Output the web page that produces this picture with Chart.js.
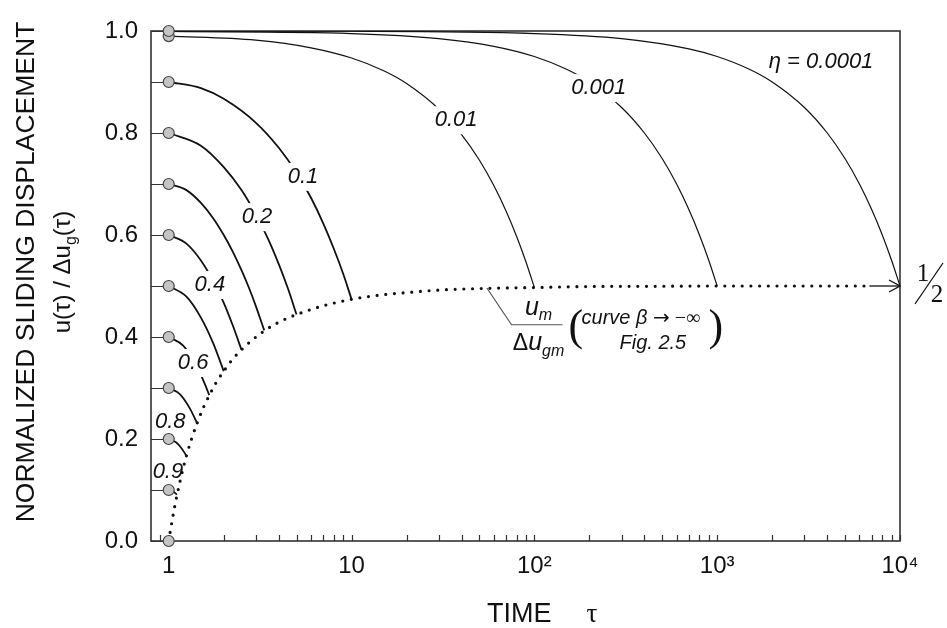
<!DOCTYPE html>
<html>
<head>
<meta charset="utf-8">
<script src="https://cdn.jsdelivr.net/npm/chart.js@4.4.1/dist/chart.umd.min.js"></script>
<style>
    html, body { margin: 0; padding: 0; background: #fff; }
    canvas { display: block; }
</style>
</head>
<body>
<canvas id="chart" width="947" height="628"></canvas>
<script>
/* ############ */
/* ### Data ### */
/* ############ */

// Starting points at tau = 1
const circleTau = [1, 1, 1, 1, 1, 1, 1, 1, 1, 1, 1, 1];
const circleU = [0.0, 0.1, 0.2, 0.3, 0.4, 0.5, 0.6, 0.7, 0.8, 0.9, 0.99, 1.0];

// One curve per eta, tau from 1 to 1/eta
const eta09Tau = [1, 1.05, 1.11];
const eta09U = [0.1, 0.098, 0.091];
const eta08Tau = [1, 1.1, 1.18, 1.25];
const eta08U = [0.2, 0.193, 0.181, 0.167];
const eta07Tau = [1, 1.15, 1.3, 1.43];
const eta07U = [0.3, 0.288, 0.261, 0.231];
const eta06Tau = [1, 1.2, 1.4, 1.55, 1.667];
const eta06U = [0.4, 0.383, 0.347, 0.314, 0.286];
const eta05Tau = [1, 1.25, 1.5, 1.75, 2];
const eta05U = [0.5, 0.479, 0.438, 0.388, 0.333];
const eta04Tau = [1, 1.25, 1.5, 1.75, 2, 2.25, 2.5];
const eta04U = [0.6, 0.583, 0.55, 0.51, 0.467, 0.421, 0.375];
const eta03Tau = [1, 1.25, 1.5, 1.75, 2, 2.25, 2.5, 2.75, 3, 3.33];
const eta03U = [0.7, 0.688, 0.663, 0.633, 0.6, 0.566, 0.531, 0.496, 0.46, 0.413];
const eta02Tau = [1, 1.5, 2, 2.5, 3, 3.5, 4, 4.5, 5];
const eta02U = [0.8, 0.775, 0.733, 0.688, 0.64, 0.592, 0.543, 0.494, 0.444];
const eta01Tau = [1, 1.5, 2, 3, 4, 5, 6, 7, 8, 9, 10];
const eta01U = [0.9, 0.888, 0.867, 0.82, 0.771, 0.722, 0.673, 0.623, 0.573, 0.524, 0.474];
const eta001Tau = [1, 3, 6, 10, 15, 20, 30, 40, 50, 60, 70, 80, 90, 100];
const eta001U = [0.99, 0.982, 0.967, 0.947, 0.922, 0.897, 0.847, 0.797, 0.747, 0.697, 0.647, 0.597, 0.547, 0.497];
const eta0001Tau = [1, 10, 30, 60, 100, 150, 200, 300, 400, 500, 600, 700, 800, 900, 1000];
const eta0001U = [0.999, 0.995, 0.985, 0.97, 0.95, 0.925, 0.9, 0.85, 0.8, 0.75, 0.7, 0.65, 0.6, 0.55, 0.5];
const eta00001Tau = [1, 10, 100, 300, 700, 1000, 1500, 2000, 3000, 4000, 5000, 6000, 7000, 8000, 9000, 10000];
const eta00001U = [0.9999, 0.9995, 0.995, 0.985, 0.965, 0.95, 0.925, 0.9, 0.85, 0.8, 0.75, 0.7, 0.65, 0.6, 0.55, 0.5];

// Dotted limit curve u_m / du_gm
const limitTau = [1, 1.02, 1.05, 1.08, 1.11, 1.15, 1.2, 1.25, 1.33, 1.43, 1.54, 1.67, 1.82, 2, 2.22, 2.5,
    2.86, 3.33, 4, 5, 6.67, 10, 15, 20, 30, 50, 100, 200, 500, 1000, 2000, 6800];
const limitU = [0, 0.019, 0.045, 0.069, 0.09, 0.115, 0.143, 0.167, 0.199, 0.231, 0.26, 0.286, 0.311, 0.333, 0.355, 0.375,
    0.394, 0.412, 0.429, 0.444, 0.459, 0.474, 0.483, 0.487, 0.492, 0.495, 0.497, 0.499, 0.4995, 0.5, 0.5, 0.5];

// Arrow towards 1/2
const arrowTau = [6800, 10000];
const arrowU = [0.5, 0.5];

// Axes
const xTickValues = [0.9, 1, 2, 3, 4, 5, 6, 7, 8, 9,
    10, 20, 30, 40, 50, 60, 70, 80, 90,
    100, 200, 300, 400, 500, 600, 700, 800, 900,
    1000, 2000, 3000, 4000, 5000, 6000, 7000, 8000, 9000, 10000];
const xTickText = { 1: '1', 10: '10', 100: '10²', 1000: '10³', 10000: '10⁴' };
const yTickValues = [0, 0.1, 0.2, 0.3, 0.4, 0.5, 0.6, 0.7, 0.8, 0.9, 1.0];
const yTickText = ['0.0', '', '0.2', '', '0.4', '', '0.6', '', '0.8', '', '1.0'];

/* ################ */
/* ### Settings ### */
/* ################ */

const SANS = '"Liberation Sans", Arial, sans-serif';
const SERIF = '"Liberation Serif", "Times New Roman", serif';
const INK = '#111';

// Curve labels (anchored in data coordinates)
const curveLabels = [
    { text: '0.1', tau: 5.43, u: 0.714, knockout: true },
    { text: '0.2', tau: 3.04, u: 0.635, knockout: true },
    { text: '0.4', tau: 1.68, u: 0.502, knockout: true },
    { text: '0.6', tau: 1.36, u: 0.349, knockout: true },
    { text: '0.8', tau: 1.02, u: 0.233, knockout: false },
    { text: '0.9', tau: 0.99, u: 0.135, knockout: false },
    { text: '0.01', tau: 37.3, u: 0.825, knockout: true },
    { text: '0.001', tau: 225, u: 0.888, knockout: true },
    { text: 'η = 0.0001', tau: 3700, u: 0.939, knockout: false }
];

function points(tau, u) {
    return tau.map((t, i) => ({ x: t, y: u[i] }));
}

function curve(tau, u, width) {
    return {
        data: points(tau, u),
        borderColor: INK,
        borderWidth: width,
        pointRadius: 0,
        fill: false,
        cubicInterpolationMode: 'monotone'
    };
}

/* ############### */
/* ### Helpers ### */
/* ############### */

function partsWidth(ctx, parts) {
    return parts.reduce((w, p) => {
        ctx.font = p.font;
        return w + ctx.measureText(p.t).width;
    }, 0);
}

function drawParts(ctx, parts, x0, baseline, centered = true) {
    let x = centered ? x0 - partsWidth(ctx, parts) / 2 : x0;
    ctx.textAlign = 'left';
    ctx.textBaseline = 'alphabetic';
    parts.forEach(p => {
        ctx.font = p.font;
        ctx.fillText(p.t, x, baseline + (p.dy || 0));
        x += ctx.measureText(p.t).width;
    });
}

/* ############### */
/* ### Plugins ### */
/* ############### */

const frameAndTicks = {
    id: 'frameAndTicks',
    beforeDatasetsDraw(chart) {
        const { ctx, chartArea: a, scales: { x, y } } = chart;
        ctx.save();
        ctx.strokeStyle = '#333';
        ctx.lineWidth = 1.2;
        ctx.beginPath();
        x.ticks.forEach(t => {
            const px = Math.round(x.getPixelForValue(t.value)) + 0.5;
            ctx.moveTo(px, a.bottom);
            ctx.lineTo(px, a.bottom - 6);
        });
        y.ticks.forEach(t => {
            const py = Math.round(y.getPixelForValue(t.value)) + 0.5;
            ctx.moveTo(a.left, py);
            ctx.lineTo(a.left + 12, py);
        });
        ctx.stroke();
        ctx.lineWidth = 1.6;
        ctx.strokeRect(a.left, a.top, a.right - a.left, a.bottom - a.top);
        ctx.restore();
    }
};

const annotations = {
    id: 'annotations',
    afterDatasetsDraw(chart) {
        const { ctx, chartArea: a, scales: { x, y } } = chart;
        const px = (t, u) => ({ x: x.getPixelForValue(t), y: y.getPixelForValue(u) });
        ctx.save();
        ctx.fillStyle = INK;
        ctx.strokeStyle = INK;

        // Arrow head at 1/2
        const tip = px(10000, 0.5);
        ctx.lineWidth = 1.4;
        ctx.beginPath();
        ctx.moveTo(tip.x - 11, tip.y - 6);
        ctx.lineTo(tip.x, tip.y);
        ctx.lineTo(tip.x - 11, tip.y + 6);
        ctx.stroke();

        // 1/2 fraction
        ctx.font = '25px ' + SERIF;
        ctx.textAlign = 'center';
        ctx.textBaseline = 'middle';
        ctx.fillText('1', tip.x + 23, tip.y - 12);
        ctx.fillText('2', tip.x + 37, tip.y + 9);
        ctx.lineWidth = 1.3;
        ctx.beginPath();
        ctx.moveTo(tip.x + 15, tip.y + 18);
        ctx.lineTo(tip.x + 43, tip.y - 23);
        ctx.stroke();

        // Curve labels
        ctx.font = 'italic 22px ' + SANS;
        curveLabels.forEach(l => {
            const p = px(l.tau, l.u);
            const w = ctx.measureText(l.text).width;
            if (l.knockout) {
                ctx.fillStyle = '#fff';
                ctx.fillRect(p.x - w / 2 - 3, p.y - 14, w + 6, 28);
                ctx.fillStyle = INK;
            }
            ctx.textAlign = 'center';
            ctx.textBaseline = 'middle';
            ctx.fillText(l.text, p.x, p.y);
        });

        // u_m / du_gm annotation
        const from = px(55, 0.496);
        const b = px(75, 0.424);
        ctx.strokeStyle = '#555';
        ctx.lineWidth = 1.2;
        ctx.beginPath();
        ctx.moveTo(from.x, from.y);
        ctx.lineTo(b.x, b.y);
        ctx.lineTo(b.x + 51, b.y);
        ctx.stroke();
        drawParts(ctx, [
            { t: 'u', font: 'italic 25px ' + SANS },
            { t: 'm', font: 'italic 16px ' + SANS, dy: 5 }
        ], b.x + 27, b.y - 10);
        drawParts(ctx, [
            { t: 'Δ', font: '23px ' + SANS },
            { t: 'u', font: 'italic 25px ' + SANS },
            { t: 'gm', font: 'italic 16px ' + SANS, dy: 6 }
        ], b.x + 27, b.y + 25);
        ctx.textAlign = 'left';
        ctx.font = '44px ' + SERIF;
        ctx.fillText('(', b.x + 57, b.y + 15);
        ctx.fillText(')', b.x + 197, b.y + 15);
        drawParts(ctx, [
            { t: 'curve β ', font: 'italic 20px ' + SANS },
            { t: '→', font: '20px "DejaVu Sans", sans-serif' },
            { t: ' −∞', font: '20px ' + SERIF }
        ], b.x + 70, b.y - 1, false);
        ctx.font = 'italic 20px ' + SANS;
        ctx.fillText('Fig. 2.5', b.x + 108, b.y + 24);

        // Axis titles
        ctx.fillStyle = INK;
        const cx = (a.left + a.right) / 2;
        ctx.font = '27px ' + SANS;
        ctx.fillText('TIME', cx - 38.5, 622);
        ctx.font = '27px ' + SERIF;
        ctx.fillText('τ', cx + 61, 622);

        ctx.save();
        ctx.translate(27, 272);
        ctx.rotate(-Math.PI / 2);
        ctx.font = '26.5px ' + SANS;
        ctx.textAlign = 'center';
        ctx.textBaseline = 'middle';
        ctx.fillText('NORMALIZED SLIDING DISPLACEMENT', 0, 0);
        ctx.restore();

        ctx.save();
        ctx.translate(62, 272);
        ctx.rotate(-Math.PI / 2);
        drawParts(ctx, [
            { t: 'u(τ) / Δu', font: '24px ' + SANS },
            { t: 'g', font: '16px ' + SANS, dy: 6 },
            { t: '(τ)', font: '24px ' + SANS }
        ], 0, 8);
        ctx.restore();

        ctx.restore();
    }
};

/* ############# */
/* ### Chart ### */
/* ############# */

const datasets = [
    {
        data: points(circleTau, circleU),
        showLine: false,
        pointRadius: 5.5,
        pointBackgroundColor: '#c4c4c4',
        pointBorderColor: '#444',
        pointBorderWidth: 1.2,
        clip: false
    },
    curve(eta09Tau, eta09U, 1.8),
    curve(eta08Tau, eta08U, 1.8),
    curve(eta07Tau, eta07U, 1.8),
    curve(eta06Tau, eta06U, 1.8),
    curve(eta05Tau, eta05U, 1.8),
    curve(eta04Tau, eta04U, 1.8),
    curve(eta03Tau, eta03U, 1.8),
    curve(eta02Tau, eta02U, 1.8),
    curve(eta01Tau, eta01U, 1.8),
    curve(eta001Tau, eta001U, 1.2),
    curve(eta0001Tau, eta0001U, 1.2),
    curve(eta00001Tau, eta00001U, 1.2),
    {
        data: points(limitTau, limitU),
        borderColor: INK,
        borderWidth: 3.2,
        borderDash: [0, 8.7],
        borderCapStyle: 'round',
        pointRadius: 0,
        fill: false,
        cubicInterpolationMode: 'monotone'
    },
    curve(arrowTau, arrowU, 1.3)
];

new Chart(document.getElementById('chart').getContext('2d'), {
    type: 'line',
    data: { datasets: datasets },
    options: {
        responsive: false,
        animation: false,
        layout: { padding: { left: 0, top: 31, right: 47, bottom: 0 } },
        plugins: {
            legend: { display: false },
            tooltip: { enabled: false }
        },
        scales: {
            x: {
                type: 'logarithmic',
                min: 0.8,
                max: 10000,
                grid: { display: false, drawTicks: false },
                border: { display: false },
                afterBuildTicks: scale => {
                    scale.ticks = xTickValues.map(v => ({ value: v }));
                },
                afterFit: scale => { scale.height = 87; },
                ticks: {
                    autoSkip: false,
                    maxRotation: 0,
                    padding: 11,
                    color: INK,
                    font: { family: SANS, size: 24 },
                    callback: value => xTickText[value] || ''
                }
            },
            y: {
                type: 'linear',
                min: 0,
                max: 1,
                grid: { display: false, drawTicks: false },
                border: { display: false },
                afterBuildTicks: scale => {
                    scale.ticks = yTickValues.map(v => ({ value: v }));
                },
                afterFit: scale => { scale.width = 151; },
                ticks: {
                    autoSkip: false,
                    padding: 13,
                    color: INK,
                    font: { family: SANS, size: 24 },
                    callback: (value, index) => yTickText[index]
                }
            }
        }
    },
    plugins: [frameAndTicks, annotations]
});
</script>
</body>
</html>
